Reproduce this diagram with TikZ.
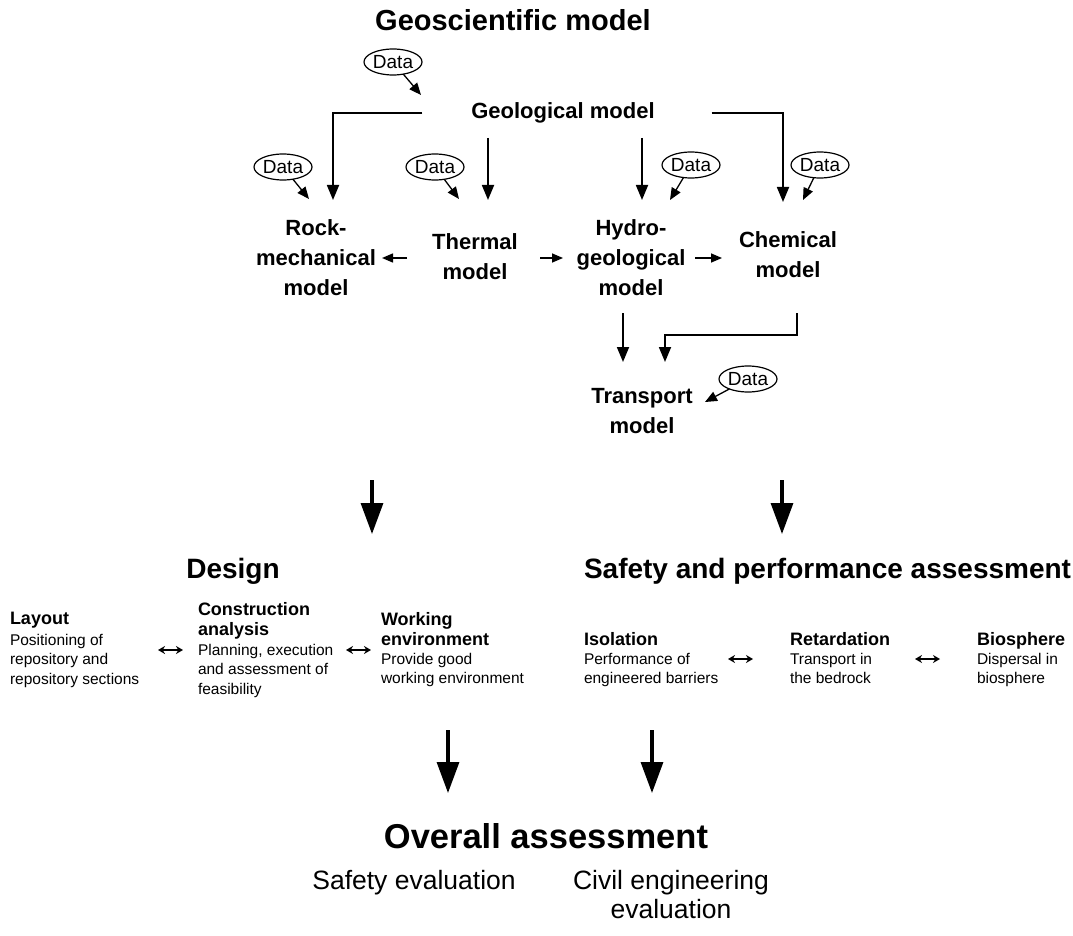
\documentclass[tikz,border=0pt]{standalone}
\usepackage{fontspec}
\setmainfont{Liberation Sans}
\usetikzlibrary{arrows.meta,shapes.geometric}
\begin{document}
\begin{tikzpicture}[x=1pt,y=-1pt,
  every node/.style={inner sep=0pt, outer sep=0pt},
  model/.style={font=\bfseries\fontsize{22}{30}\selectfont, align=center},
  data/.style={ellipse, draw, line width=1.2pt, minimum width=58pt, minimum height=26pt,
    font=\fontsize{19}{20}\selectfont},
  flow/.style={line width=1.8pt, -{Triangle[length=15pt,width=12pt]}},
  feed/.style={line width=1.3pt, -{Triangle[length=12pt,width=10pt]}},
  side/.style={line width=1.5pt, -{Triangle[length=11pt,width=9pt]}},
  big/.style={line width=3.2pt, -{Triangle[length=31pt,width=22pt]}},
  heading/.style={font=\bfseries\fontsize{28}{30}\selectfont},
  subhead/.style={font=\bfseries\fontsize{18}{20}\selectfont, align=left, anchor=north west},
  body/.style={font=\fontsize{15.5}{19.5}\selectfont, align=left, anchor=north west},
  link/.style={line width=1.6pt, {Stealth[length=7pt,width=8pt]}-{Stealth[length=7pt,width=8pt]}},
  result/.style={font=\fontsize{26.5}{29}\selectfont, align=center}
]
\useasboundingbox (0,0) rectangle (1073,936);

% ---------- geoscientific model ----------
\node[font=\bfseries\fontsize{29}{30}\selectfont] (title) at (513,20) {Geoscientific model};
\node[model] (geo) at (563,113) {Geological model};
\node[data] (d0) at (393,62) {Data};
\coordinate (geoIn) at (421,95);
\draw[feed] (d0) -- (geoIn);

\node[model] (rock)  at (316,258) {Rock-\\mechanical\\model};
\node[model] (therm) at (475,257) {Thermal\\model};
\node[model] (hydro) at (631,258) {Hydro-\\geological\\model};
\node[model] (chem)  at (788,255) {Chemical\\model};
\node[model] (trans) at (642,411) {Transport\\model};

% geological model feeding the four sub-models
\coordinate (rockIn)   at (333,200);
\coordinate (thermOut) at (488,138);
\coordinate (thermIn)  at (488,200);
\coordinate (hydroOut) at (642,138);
\coordinate (hydroIn)  at (642,200);
\coordinate (chemIn)   at (783,202);
\draw[flow] ([xshift=-49pt]geo.west) -| (rockIn);
\draw[flow] (thermOut) -- (thermIn);
\draw[flow] (hydroOut) -- (hydroIn);
\draw[flow] ([xshift=57pt]geo.east) -| (chemIn);

% data inputs
\node[data] (dRock)  at (283,167) {Data};
\node[data] (dTherm) at (435,167) {Data};
\node[data] (dHydro) at (691,165) {Data};
\node[data] (dChem)  at (820,165) {Data};
\node[data] (dTrans) at (748,379) {Data};
\coordinate (rockData)  at (309,199);
\coordinate (thermData) at (459,199);
\coordinate (hydroData) at (670,200);
\coordinate (chemData)  at (803,200);
\coordinate (transData) at (705,402);
\draw[feed] (dRock)  -- (rockData);
\draw[feed] (dTherm) -- (thermData);
\draw[feed] (dHydro) -- (hydroData);
\draw[feed] (dChem)  -- (chemData);
\draw[feed] (dTrans) -- (transData);

% couplings between sub-models
\coordinate (tr1) at (407,258); \coordinate (tr2) at (382,258);
\coordinate (th1) at (540,258); \coordinate (th2) at (563,258);
\coordinate (hc1) at (695,258); \coordinate (hc2) at (722,258);
\draw[side] (tr1) -- (tr2);
\draw[side] (th1) -- (th2);
\draw[side] (hc1) -- (hc2);

% into the transport model
\coordinate (hydroDown) at (623,313);
\coordinate (transInA)  at (623,362);
\coordinate (chemDown)  at (797,313);
\coordinate (transInB)  at (665,362);
\draw[flow] (hydroDown) -- (transInA);
\draw[flow] (chemDown) -- ++(0,22) -| (transInB);

% ---------- design / safety ----------
\coordinate (bigL1) at (372,480); \coordinate (bigL2) at (372,534);
\coordinate (bigR1) at (782,480); \coordinate (bigR2) at (782,534);
\draw[big] (bigL1) -- (bigL2);
\draw[big] (bigR1) -- (bigR2);

\node[heading, anchor=base] (design) at (233,578) {Design};
\node[heading, anchor=base west] (safety) at (584,578) {Safety and performance assessment};

\node[subhead] (layoutH) at (10,612) {Layout};
\node[body]    (layoutB) at (10,634) {Positioning of\\repository and\\repository sections};
\node[subhead] (consH)   at (198,602) {Construction\\analysis};
\node[body]    (consB)   at (198,644) {Planning, execution\\and assessment of\\feasibility};
\node[subhead] (workH)   at (381,612) {Working\\environment};
\node[body]    (workB)   at (381,653) {Provide good\\working environment};

\node[subhead] (isoH) at (584,632) {Isolation};
\node[body]    (isoB) at (584,653) {Performance of\\engineered barriers};
\node[subhead] (retH) at (790,632) {Retardation};
\node[body]    (retB) at (790,653) {Transport in\\the bedrock};
\node[subhead] (bioH) at (977,632) {Biosphere};
\node[body]    (bioB) at (977,653) {Dispersal in\\biosphere};

\coordinate (lk1a) at (158,650); \coordinate (lk1b) at (183,650);
\coordinate (lk2a) at (346,650); \coordinate (lk2b) at (371,650);
\coordinate (lk3a) at (728,659); \coordinate (lk3b) at (753,659);
\coordinate (lk4a) at (915,659); \coordinate (lk4b) at (940,659);
\draw[link] (lk1a) -- (lk1b);
\draw[link] (lk2a) -- (lk2b);
\draw[link] (lk3a) -- (lk3b);
\draw[link] (lk4a) -- (lk4b);

% ---------- overall assessment ----------
\coordinate (lowL1) at (448,730); \coordinate (lowL2) at (448,793);
\coordinate (lowR1) at (652,730); \coordinate (lowR2) at (652,793);
\draw[big] (lowL1) -- (lowL2);
\draw[big] (lowR1) -- (lowR2);

\node[font=\bfseries\fontsize{34.5}{36}\selectfont, anchor=base] (overall) at (546,848) {Overall assessment};
\node[result, anchor=base] (seval) at (414,889) {Safety evaluation};
\node[result, anchor=north] (ceval) at (671,870) {Civil engineering\\evaluation};
\end{tikzpicture}
\end{document}
